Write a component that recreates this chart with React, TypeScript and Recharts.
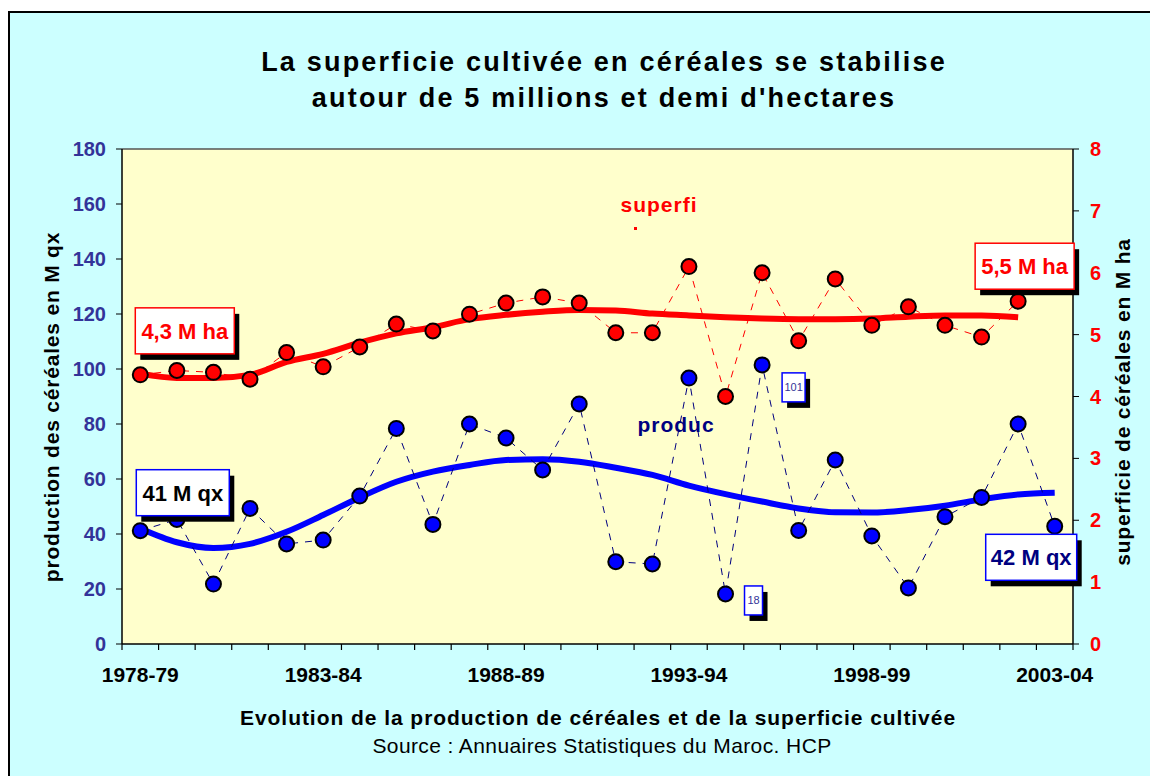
import { ComposedChart, Line, XAxis, YAxis, CartesianGrid, ReferenceLine, LabelList } from "recharts";

const YEARS = [
  "1978-79", "1979-80", "1980-81", "1981-82", "1982-83", "1983-84", "1984-85",
  "1985-86", "1986-87", "1987-88", "1988-89", "1989-90", "1990-91", "1991-92",
  "1992-93", "1993-94", "1994-95", "1995-96", "1996-97", "1997-98", "1998-99",
  "1999-00", "2000-01", "2001-02", "2002-03", "2003-04",
];

// production, millions de quintaux
const PRODUCTION = [
  41.2, 45.3, 21.8, 49.3, 36.4, 37.8, 53.8, 78.4, 43.5, 80.0, 74.9, 63.3, 87.3,
  29.9, 29.1, 96.7, 18.2, 101.5, 41.3, 66.9, 39.3, 20.4, 46.3, 53.3, 80.0, 42.8,
];
// superficie, millions d'hectares (pas de valeur pour 2003-04)
const SUPERFICIE = [
  4.35, 4.42, 4.39, 4.28, 4.71, 4.48, 4.8, 5.17, 5.06, 5.33, 5.51, 5.61, 5.51,
  5.03, 5.03, 6.1, 4.0, 6.0, 4.9, 5.9, 5.15, 5.45, 5.15, 4.96, 5.54, null,
];
// courbes de tendance
const PROD_TREND = [
  42.0, 37.0, 34.9, 36.4, 40.8, 46.9, 53.3, 59.0, 62.7, 65.1, 66.9, 67.2, 66.3,
  64.1, 61.5, 57.6, 54.5, 51.8, 49.3, 47.9, 47.8, 48.7, 50.3, 52.6, 54.4, 55.0,
];
const SUP_TREND = [
  4.37, 4.3, 4.3, 4.35, 4.56, 4.69, 4.87, 5.02, 5.12, 5.25, 5.32, 5.37, 5.4,
  5.39, 5.34, 5.31, 5.28, 5.26, 5.25, 5.25, 5.26, 5.29, 5.31, 5.31, 5.28, null,
];

const LEFT_TICKS = [0, 20, 40, 60, 80, 100, 120, 140, 160, 180];
const RIGHT_TICKS = [0, 1, 2, 3, 4, 5, 6, 7, 8];
const LABEL_EVERY = 5;

const SUP_TAGS = [
  { index: 0, text: "4,3 M ha", dx: -5, dy: -67, w: 99, h: 46, border: "#ff0000", color: "#ff0000", size: 22 },
  { index: 24, text: "5,5 M ha", dx: -43, dy: -58, w: 99, h: 46, border: "#ff0000", color: "#ff0000", size: 22 },
];
const PROD_TAGS = [
  { index: 0, text: "41 M qx", dx: -4, dy: -61, w: 93, h: 46, border: "#0000ff", color: "#000000", size: 22 },
  { index: 25, text: "42 M qx", dx: -69, dy: 8, w: 91, h: 46, border: "#0000ff", color: "#000080", size: 22 },
  { index: 17, text: "101", dx: 20, dy: 8, w: 23, h: 29, border: "#0000ff", color: "#333399", size: 11 },
  { index: 16, text: "18", dx: 19, dy: -8, w: 18, h: 29, border: "#0000ff", color: "#333399", size: 11 },
];

const rows = YEARS.map((year, i) => ({
  idx: i,
  year,
  production: PRODUCTION[i],
  superficie: SUPERFICIE[i],
  prodTrend: PROD_TREND[i],
  supTrend: SUP_TREND[i],
}));

// category centres get a label, category boundaries get a tick mark
const X_TICKS: number[] = [];
for (let k = 0; k <= YEARS.length; k++) {
  X_TICKS.push(k - 0.5);
  if (k < YEARS.length && k % LABEL_EVERY === 0) X_TICKS.push(k);
}

const FONT = "'Liberation Sans', Arial, Helvetica, sans-serif";

function XTick(props: any) {
  const { x, y, payload } = props;
  const v = payload.value;
  if (Number.isInteger(v)) {
    return (
      <text x={x} y={y + 38} textAnchor="middle" fontFamily={FONT} fontWeight="bold" fontSize={21} fill="#000">
        {YEARS[v]}
      </text>
    );
  }
  return <line x1={x} x2={x} y1={y} y2={y + 6} stroke="#000" strokeWidth={1.2} />;
}

function makeDot(fill: string) {
  return (p: any) => {
    if (p.cy == null || p.value == null) return <g key={p.index} />;
    return <circle key={p.index} cx={p.cx} cy={p.cy} r={7.5} fill={fill} stroke="#000" strokeWidth={2} />;
  };
}

function makeTag(tags: typeof SUP_TAGS) {
  return (props: any) => {
    const t = tags.find((g) => g.index === props.index);
    const px = props.x ?? props.viewBox?.x;
    const py = props.y ?? props.viewBox?.y;
    if (!t || px == null || py == null) return null;
    const x = px + t.dx;
    const y = py + t.dy;
    return (
      <g>
        <rect x={x + 5} y={y + 6} width={t.w} height={t.h} fill="#000" />
        <rect x={x} y={y} width={t.w} height={t.h} fill="#fff" stroke={t.border} strokeWidth={1.5} />
        <text
          x={x + t.w / 2}
          y={y + t.h / 2}
          dy="0.36em"
          textAnchor="middle"
          fontFamily={FONT}
          fontWeight={t.size > 15 ? "bold" : "normal"}
          fontSize={t.size}
          fill={t.color}
        >
          {t.text}
        </text>
      </g>
    );
  };
}

const abs = (s: React.CSSProperties): React.CSSProperties => ({ position: "absolute", fontFamily: FONT, whiteSpace: "nowrap", ...s });

export default function App() {
  return (
    <div style={{ position: "fixed", left: 0, top: 0, width: 1150, height: 776, overflow: "hidden", background: "#fff" }}>
      <div style={{ position: "absolute", left: 8, top: 11, width: 1200, height: 820, background: "#ccffff", border: "2px solid #000", boxSizing: "border-box" }} />

      <div style={{ position: "absolute", left: 0, top: 0 }}>
        <ComposedChart width={1150} height={776} data={rows} margin={{ top: 149, right: 27, bottom: 92, left: 62 }}>
          <CartesianGrid yAxisId="left" horizontal={false} vertical={false} fill="#ffffcc" stroke="none" />
          <XAxis
            dataKey="idx"
            type="number"
            domain={[-0.5, YEARS.length - 0.5]}
            ticks={X_TICKS}
            interval={0}
            tick={<XTick />}
            tickLine={false}
            tickSize={0}
            tickMargin={0}
            height={40}
            axisLine={{ stroke: "#000", strokeWidth: 1.5 }}
            allowDataOverflow
          />
          <YAxis
            yAxisId="left"
            domain={[0, 180]}
            ticks={LEFT_TICKS}
            interval={0}
            width={60}
            tickSize={6}
            tickMargin={10}
            axisLine={{ stroke: "#000", strokeWidth: 1.5 }}
            tickLine={{ stroke: "#000" }}
            tick={{ fill: "#333399", fontSize: 20, fontWeight: "bold", fontFamily: FONT }}
          />
          <YAxis
            yAxisId="right"
            orientation="right"
            domain={[0, 8]}
            ticks={RIGHT_TICKS}
            interval={0}
            width={50}
            tickSize={6}
            tickMargin={11}
            axisLine={{ stroke: "#000", strokeWidth: 1.5 }}
            tickLine={{ stroke: "#000" }}
            tick={{ fill: "#ff0000", fontSize: 20, fontWeight: "bold", fontFamily: FONT, textAnchor: "start" }}
          />
          <ReferenceLine yAxisId="left" y={180} stroke="#555" strokeWidth={1.5} />

          <Line
            yAxisId="left"
            dataKey="prodTrend"
            type="monotone"
            stroke="#0000ff"
            strokeWidth={6}
            dot={false}
            activeDot={false}
            isAnimationActive={false}
          />
          <Line
            yAxisId="right"
            dataKey="supTrend"
            type="monotone"
            stroke="#ff0000"
            strokeWidth={6}
            dot={false}
            activeDot={false}
            isAnimationActive={false}
          />
          <Line
            yAxisId="left"
            dataKey="production"
            type="linear"
            stroke="#000080"
            strokeWidth={1}
            strokeDasharray="7 7"
            dot={makeDot("#0000ff")}
            activeDot={false}
            isAnimationActive={false}
          >
            <LabelList dataKey="production" content={makeTag(PROD_TAGS)} />
          </Line>
          <Line
            yAxisId="right"
            dataKey="superficie"
            type="linear"
            stroke="#ff0000"
            strokeWidth={1}
            strokeDasharray="7 7"
            dot={makeDot("#ff0000")}
            activeDot={false}
            isAnimationActive={false}
          >
            <LabelList dataKey="superficie" content={makeTag(SUP_TAGS)} />
          </Line>
        </ComposedChart>
      </div>

      <div style={abs({ left: 604, top: 44, transform: "translateX(-50%)", fontSize: 27, fontWeight: "bold", letterSpacing: 2.2, lineHeight: "36px", textAlign: "center", color: "#000" })}>
        La superficie cultivée en céréales se stabilise
        <br />
        autour de 5 millions et demi d'hectares
      </div>

      <div style={abs({ left: 52, top: 407, transform: "translate(-50%, -50%) rotate(-90deg)", fontSize: 21, fontWeight: "bold", letterSpacing: 0.8, color: "#000" })}>
        production des céréales en M qx
      </div>
      <div style={abs({ left: 1123, top: 402, transform: "translate(-50%, -50%) rotate(-90deg)", fontSize: 21, fontWeight: "bold", letterSpacing: 0.8, color: "#000" })}>
        superficie de céréales en M ha
      </div>

      <div style={abs({ left: 659, top: 205, transform: "translate(-50%, -50%)", fontSize: 21, fontWeight: "bold", letterSpacing: 1, color: "#ff0000" })}>
        superfi
      </div>
      <div style={{ position: "absolute", left: 634, top: 227, width: 3, height: 3, background: "#ff0000" }} />
      <div style={abs({ left: 676, top: 425, transform: "translate(-50%, -50%)", fontSize: 21, fontWeight: "bold", letterSpacing: 1, color: "#000080" })}>
        produc
      </div>

      <div style={abs({ left: 598, top: 718, transform: "translate(-50%, -50%)", fontSize: 21, fontWeight: "bold", letterSpacing: 0.95, color: "#000" })}>
        Evolution de la production de céréales et de la superficie cultivée
      </div>
      <div style={abs({ left: 602, top: 746, transform: "translate(-50%, -50%)", fontSize: 21, letterSpacing: 0.4, color: "#000" })}>
        Source : Annuaires Statistiques du Maroc. HCP
      </div>
    </div>
  );
}
